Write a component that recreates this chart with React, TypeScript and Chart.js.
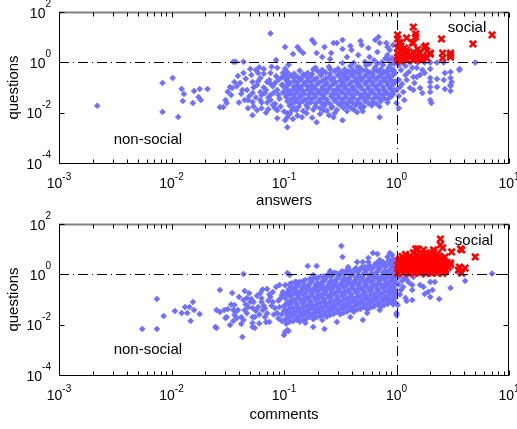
import React, { useEffect, useRef } from "react";
import { Chart, registerables } from "chart.js";

Chart.register(...registerables);

const FONT = '"Liberation Sans", Arial, Helvetica, sans-serif';

// Axis ticks (powers of ten)
const xTickExps = [-3, -2, -1, 0, 1];
const yTickExps = [-4, -2, 0, 2];
const xMinorDecades = [-3, -2, -1, 0];
const minorMultipliers = [2, 3, 4, 5, 6, 7, 8, 9];
const xRange = [1e-3, 10];
const yRange = [1e-4, 100];
const threshold = 1;

// ---------- Top panel: [log10(answers), log10(questions)] ----------
const answersSparse = [
  [-2.66, -1.73], [-2.08, -0.82], [-1.99, -0.62], [-2.08, -1.97], [-1.94, -2.17], [-1.91, -1.06],
  [-1.89, -1.26], [-1.9, -1.54], [-1.81, -1.62], [-1.8, -1.14], [-1.75, -1.06], [-1.76, -1.38],
  [-1.74, -1.5], [-1.68, -1.06], [-1.57, -1.78], [-1.54, -1.78], [-1.51, -1.62], [-1.5, -1.17],
  [-1.48, -0.98], [-1.45, 0.02], [-1.43, 0.02], [-1.36, 0.02], [-1.52, -1.5], [-1.46, -1.02],
  [-1.44, -0.78], [-1.41, -0.54], [-1.39, -0.82], [-1.36, -0.42], [-1.37, -1.1], [-1.33, -1.1],
  [-1.3, -0.26], [-1.28, -0.78], [-1.28, -1.22], [-1.35, -1.5], [-1.32, -1.5], [-1.28, -1.58],
  [-1.32, -1.82], [-1.24, -1.9], [-1.28, -2.1], [-1.25, -0.3], [-1.23, -0.42], [-1.21, -0.62],
  [-1.18, -0.26], [-1.15, -0.78], [-1.12, -0.42], [-1.11, -0.18], [-1.07, 0.09], [-1.06, -0.22],
  [-1.05, -0.7], [-1.08, -0.82], [-1.01, -0.42], [-0.97, -0.78], [-0.96, -0.1], [-1.21, -1.18],
  [-1.17, -1.22], [-1.21, -1.5], [-1.12, -1.5], [-1.2, -1.82], [-1.14, -1.86], [-1.08, -1.82],
  [-1.06, -2.22], [-0.97, -2.02], [-0.99, -2.3], [-1.12, 1.15], [-1.18, -1.0], [-1.12, -1.3],
  [-1.06, -1.1], [-1.1, -0.95], [-1.15, -1.6], [-1.04, -1.45], [-1.08, -1.65], [-1.02, -0.6],
  [-1.2, -1.3], [-1.27, -1.0], [-1.13, -0.7], [-1.06, -1.9], [-1.24, -0.9],
  [-1.47, -1.3], [-1.42, -0.95], [-1.4, -1.6], [-1.38, -1.25], [-1.34, -0.65], [-1.31, -1.35],
  [-1.29, -0.5], [-1.27, -1.75], [-1.25, -1.4], [-1.23, -0.75], [-1.2, -1.6], [-1.18, -0.45],
  [-1.16, -1.1], [-1.14, -1.4], [-1.12, -0.85], [-1.1, -1.7], [-1.09, -1.2], [-1.07, -0.55],
  [-1.05, -1.3], [-1.03, -1.75], [-1.02, -0.9], [-1.01, -1.2], [-1.0, -1.95], [-0.99, -0.25],
  [-1.16, -2.0], [-1.22, -0.2],
  [-0.99, 0.61], [-0.88, 0.61], [-0.86, 0.49], [-0.83, 0.37], [-0.92, 0.33], [-0.75, 0.89],
  [-0.73, 0.77], [-0.64, 0.61], [-0.58, 0.37], [-0.56, 0.77], [-0.53, 0.77], [-0.48, 0.89],
  [-0.48, 0.53], [-0.41, 0.65], [-0.4, 0.49], [-0.32, 0.85], [-0.31, 0.69], [-0.25, 0.57],
  [-0.19, 0.89], [-0.16, 1.01], [-0.15, 0.77], [-0.09, 0.77], [-0.08, 0.61], [-0.17, 0.41],
  [-0.71, 0.37], [-0.66, 0.21], [-0.59, 0.13], [-0.44, 0.21], [-0.34, 0.29], [-0.24, 0.21],
  [-0.08, 0.29], [-0.48, -0.03], [-0.35, -0.19], [-0.06, 0.49], [-0.03, 0.69], [-0.04, 0.17],
  [-0.28, 0.02], [-0.2, 0.08], [-0.13, 0.0], [-0.07, 0.1], [-0.02, 0.05], [-0.17, -0.05],
  [-0.1, 0.15], [-0.24, -0.06], [-0.38, -0.02], [-0.05, -0.08],
  [-0.97, -2.18], [-0.97, -2.58], [-0.71, -2.38], [-0.56, -2.18], [-0.48, -2.3], [-0.35, -1.98],
  [-0.3, -1.94], [-0.15, -2.18], [-0.65, -1.9], [-0.84, -2.18], [-0.55, -2.02], [-0.89, -1.9],
  [-0.95, -2.05], [-0.88, -2.12], [-0.8, -2.02], [-0.75, -2.2], [-0.68, -2.05], [-0.92, -2.25],
  [-0.6, -2.1],
];

const answersCore = [
  [-0.72, -0.22], [-0.6, -0.18], [-0.52, -0.25], [-0.41, -0.15], [-0.33, -0.21], [-0.27, -0.12],
  [-0.19, -0.2], [-0.12, -0.1], [-0.07, -0.22], [-0.02, -0.05],
  [-0.97, -0.4], [-0.86, -0.33], [-0.79, -0.42], [-0.7, -0.35], [-0.63, -0.4], [-0.55, -0.34],
  [-0.49, -0.41], [-0.43, -0.36], [-0.36, -0.39], [-0.3, -0.32], [-0.24, -0.4], [-0.17, -0.35],
  [-0.11, -0.38], [-0.05, -0.3], [-0.01, -0.42],
  [-1.0, -0.55], [-0.94, -0.52], [-0.88, -0.58], [-0.82, -0.5], [-0.76, -0.56], [-0.67, -0.52],
  [-0.6, -0.57], [-0.52, -0.51], [-0.46, -0.55], [-0.39, -0.53], [-0.33, -0.58], [-0.27, -0.5],
  [-0.21, -0.56], [-0.14, -0.53], [-0.08, -0.57], [-0.03, -0.5],
  [-0.98, -0.7], [-0.91, -0.74], [-0.85, -0.68], [-0.79, -0.73], [-0.73, -0.69], [-0.66, -0.74],
  [-0.58, -0.7], [-0.5, -0.72], [-0.44, -0.68], [-0.37, -0.74], [-0.31, -0.7], [-0.24, -0.72],
  [-0.18, -0.68], [-0.11, -0.73], [-0.05, -0.7], [-0.01, -0.76],
  [-1.01, -0.9], [-0.95, -0.86], [-0.88, -0.9], [-0.82, -0.87], [-0.76, -0.91], [-0.7, -0.85],
  [-0.63, -0.89], [-0.56, -0.86], [-0.49, -0.9], [-0.42, -0.87], [-0.35, -0.91], [-0.28, -0.85],
  [-0.21, -0.89], [-0.15, -0.86], [-0.08, -0.9], [-0.03, -0.88],
  [-0.99, -1.04], [-0.92, -1.07], [-0.86, -1.03], [-0.79, -1.08], [-0.73, -1.02], [-0.66, -1.06],
  [-0.6, -1.04], [-0.53, -1.08], [-0.46, -1.03], [-0.39, -1.07], [-0.32, -1.02], [-0.25, -1.06],
  [-0.18, -1.04], [-0.12, -1.08], [-0.06, -1.03], [-0.02, -1.1],
  [-1.0, -1.2], [-0.94, -1.24], [-0.88, -1.2], [-0.82, -1.25], [-0.75, -1.21], [-0.68, -1.23],
  [-0.62, -1.19], [-0.55, -1.24], [-0.48, -1.21], [-0.41, -1.25], [-0.35, -1.2], [-0.28, -1.23],
  [-0.22, -1.19], [-0.15, -1.24], [-0.09, -1.21], [-0.03, -1.26],
  [-0.98, -1.38], [-0.91, -1.41], [-0.85, -1.37], [-0.78, -1.42], [-0.72, -1.38], [-0.65, -1.4],
  [-0.58, -1.36], [-0.51, -1.41], [-0.45, -1.39], [-0.38, -1.42], [-0.31, -1.37], [-0.25, -1.4],
  [-0.18, -1.38], [-0.11, -1.43], [-0.05, -1.37],
  [-0.97, -1.55], [-0.9, -1.58], [-0.83, -1.54], [-0.76, -1.59], [-0.69, -1.55], [-0.62, -1.57],
  [-0.55, -1.53], [-0.48, -1.58], [-0.42, -1.55], [-0.35, -1.6], [-0.28, -1.54], [-0.21, -1.57],
  [-0.14, -1.55], [-0.08, -1.6],
  [-0.95, -1.72], [-0.87, -1.76], [-0.8, -1.71], [-0.72, -1.75], [-0.64, -1.72], [-0.57, -1.77],
  [-0.5, -1.71], [-0.43, -1.74], [-0.36, -1.7], [-0.29, -1.76], [-0.22, -1.72], [-0.15, -1.75],
  [-0.93, -1.9], [-0.83, -1.93], [-0.74, -1.88], [-0.62, -1.92], [-0.53, -1.89], [-0.44, -1.94],
  [-0.38, -1.88],
];

const answersCoreFill = [
  [-0.74, -0.28], [-0.66, -0.3], [-0.59, -0.27], [-0.52, -0.31],
  [-0.46, -0.28], [-0.39, -0.3], [-0.33, -0.27], [-0.27, -0.31], [-0.2, -0.29], [-0.14, -0.27],
  [-0.08, -0.31], [-0.03, -0.28],
  [-0.99, -0.47], [-0.91, -0.45], [-0.83, -0.48], [-0.75, -0.46], [-0.67, -0.47], [-0.59, -0.45],
  [-0.52, -0.48], [-0.46, -0.46], [-0.4, -0.47], [-0.33, -0.45], [-0.27, -0.48], [-0.21, -0.46],
  [-0.14, -0.47], [-0.08, -0.45], [-0.03, -0.48],
  [-0.97, -0.63], [-0.91, -0.62], [-0.85, -0.64], [-0.79, -0.62], [-0.71, -0.63], [-0.63, -0.64],
  [-0.56, -0.62], [-0.49, -0.63], [-0.43, -0.61], [-0.36, -0.64], [-0.3, -0.62], [-0.24, -0.63],
  [-0.17, -0.61], [-0.11, -0.64], [-0.06, -0.62],
  [-0.95, -0.8], [-0.88, -0.79], [-0.82, -0.81], [-0.76, -0.79], [-0.69, -0.8], [-0.62, -0.81],
  [-0.54, -0.79], [-0.47, -0.8], [-0.4, -0.78], [-0.34, -0.81], [-0.27, -0.79], [-0.21, -0.8],
  [-0.14, -0.78], [-0.08, -0.81], [-0.03, -0.79],
  [-0.98, -0.97], [-0.91, -0.96], [-0.85, -0.98], [-0.79, -0.96], [-0.73, -0.97], [-0.66, -0.98],
  [-0.59, -0.96], [-0.52, -0.97], [-0.46, -0.95], [-0.39, -0.98], [-0.32, -0.96], [-0.25, -0.97],
  [-0.18, -0.95], [-0.12, -0.98], [-0.06, -0.96],
  [-0.96, -1.13], [-0.89, -1.12], [-0.83, -1.14], [-0.76, -1.12], [-0.7, -1.13], [-0.63, -1.14],
  [-0.56, -1.12], [-0.5, -1.13], [-0.43, -1.11], [-0.36, -1.14], [-0.29, -1.12], [-0.22, -1.13],
  [-0.16, -1.11], [-0.1, -1.14], [-0.04, -1.12],
  [-0.97, -1.3], [-0.91, -1.29], [-0.85, -1.31], [-0.78, -1.29], [-0.72, -1.3], [-0.65, -1.31],
  [-0.58, -1.29], [-0.52, -1.3], [-0.45, -1.28], [-0.38, -1.31], [-0.32, -1.29], [-0.25, -1.3],
  [-0.19, -1.28], [-0.12, -1.31], [-0.06, -1.29],
  [-0.94, -1.47], [-0.88, -1.46], [-0.81, -1.48], [-0.75, -1.46], [-0.68, -1.47], [-0.62, -1.48],
  [-0.55, -1.46], [-0.48, -1.47], [-0.41, -1.45], [-0.34, -1.48], [-0.28, -1.46], [-0.21, -1.47],
  [-0.15, -1.45], [-0.08, -1.48],
  [-0.93, -1.64], [-0.86, -1.63], [-0.79, -1.65], [-0.72, -1.63], [-0.66, -1.64], [-0.59, -1.65],
  [-0.52, -1.63], [-0.45, -1.64], [-0.39, -1.62], [-0.32, -1.65], [-0.25, -1.63], [-0.18, -1.64],
  [-0.91, -1.81], [-0.79, -1.8], [-0.68, -1.82], [-0.58, -1.8], [-0.47, -1.81], [-0.4, -1.82],
  [-0.32, -1.8],
];

const answersRight = [
  [0.3, -0.01], [0.36, -0.01], [0.42, -0.01], [0.7, -0.01], [0.08, -0.15], [0.14, -0.22],
  [0.18, -0.22], [0.23, -0.3], [0.3, -0.26], [0.08, -0.5], [0.09, -0.7], [0.15, -0.58],
  [0.21, -0.5], [0.25, -0.42], [0.3, -0.62], [0.36, -0.66], [0.43, -0.42], [0.48, -0.38],
  [0.48, -0.62], [0.49, -0.78], [0.56, -0.3], [0.03, -0.98], [0.06, -1.18], [0.15, -1.1],
  [0.16, -0.82], [0.21, -1.02], [0.23, -1.22], [0.3, -0.98], [0.36, -0.98], [0.3, -1.5],
  [0.31, -1.62], [0.43, -1.06], [0.48, -0.94], [0.48, -1.14], [0.0, -1.62], [0.56, -0.26],
  [0.42, -0.7], [0.48, -0.9], [0.3, -0.78], [0.3, -1.18], [0.18, -0.58], [0.12, -1.02],
  [0.02, -0.11], [0.04, -0.3], [0.02, -0.7], [0.05, -0.86], [0.0, -1.1], [0.02, -1.34],
  [0.07, -1.5], [0.02, -1.82], [0.11, -0.38], [0.12, -0.01], [0.19, -0.01], [0.25, -0.01],
  [0.06, -0.01],
];

const answersSocial = [
  [0.15, 1.4], [0.01, 1.09], [0.17, 1.13], [0.4, 0.93], [0.68, 0.73], [0.85, 1.09],
  [0.09, 0.97], [0.03, 0.77], [0.14, 0.77], [0.26, 0.65], [0.3, 0.37], [0.41, 0.37],
  [0.48, 0.29], [0.41, 0.17], [0.48, 0.21], [0.24, 0.21], [0.21, 0.37], [0.15, 0.41],
  [0.09, 0.49], [0.05, 0.49], [0.01, 0.57], [0.01, 0.37], [0.06, 0.29], [0.12, 0.29],
  [0.16, 0.21], [0.01, 0.21], [0.02, 0.77], [0.07, 0.57], [0.12, 0.21], [0.2, 0.37],
  [0.23, 0.21], [0.25, 0.61], [0.3, 0.33], [0.01, 0.09], [0.05, 0.13], [0.15, 0.09],
  [0.18, 0.13], [0.48, 0.37], [0.01, 0.93], [0.17, 1.01], [0.15, 0.77],
  [0.04, 0.05], [0.08, 0.17], [0.1, 0.4], [0.04, 0.65], [0.19, 0.52], [0.27, 0.45],
  [0.09, 0.09], [0.22, 0.09], [0.27, 0.17],
];

// ---------- Bottom panel: [log10(comments), log10(questions)] ----------
const commentsSparse = [
  [-2.26, -2.17], [-2.13, -2.17], [-2.13, -0.98], [-2.07, -1.66], [-1.97, -1.46], [-1.88, -1.3],
  [-1.86, -1.54], [-1.84, -1.3], [-1.81, -1.1], [-1.8, -1.42], [-1.83, -1.85], [-1.75, -1.58],
  [-1.91, -1.54], [-1.57, -0.62], [-1.61, -2.09], [-1.6, -2.13], [-1.6, -1.42], [-1.57, -1.5],
  [-1.53, -1.42], [-1.5, -1.38], [-1.51, -1.7], [-1.48, -2.01], [-1.46, -0.74], [-1.45, -1.42],
  [-1.44, -1.22], [-1.44, -1.62], [-1.42, -1.74], [-1.38, -1.97], [-1.36, 0.01], [-1.35, -0.66],
  [-1.36, -1.02], [-1.35, -1.42], [-1.36, -1.81], [-1.37, -2.49], [-1.32, -1.3], [-1.29, -0.98],
  [-1.28, -1.93], [-1.26, -2.13], [-1.28, -1.7], [-1.41, -1.42], [-1.52, -1.74], [-1.33, -0.94],
  [-1.3, -1.1], [-1.28, -1.34], [-1.26, -1.7], [-1.28, -2.09], [-1.23, -1.3], [-1.21, -0.74],
  [-1.2, -1.1], [-1.19, -1.42], [-1.17, -1.7], [-1.15, -0.58], [-1.12, -0.9], [-1.13, -1.89],
  [-1.1, -1.1], [-1.06, -1.54], [-1.04, -0.42], [-1.02, -0.82], [-0.99, -1.22], [-0.97, -1.54],
  [-0.99, -2.29], [-0.97, 0.05], [-1.22, -1.6], [-1.18, -1.25], [-1.14, -1.05], [-1.08, -1.35],
  [-1.03, -0.95], [-1.05, -1.75], [-1.1, -0.7], [-1.16, -1.9], [-1.02, -1.6], [-1.2, -0.95],
  [-1.47, -1.2], [-1.43, -1.5], [-1.4, -0.9], [-1.38, -1.7], [-1.33, -1.55], [-1.31, -0.75],
  [-1.27, -1.1], [-1.25, -1.45], [-1.24, -0.85], [-1.22, -1.95], [-1.19, -0.6], [-1.17, -1.35],
  [-1.15, -1.55], [-1.13, -0.8], [-1.11, -1.25], [-1.09, -1.6], [-1.07, -0.5], [-1.05, -1.05],
  [-1.04, -1.3], [-1.02, -1.85], [-1.01, -0.7], [-1.0, -1.45], [-1.34, -1.2], [-1.45, -1.85],
  [-0.49, 1.13], [-0.48, 0.69], [-0.79, 0.33], [-0.71, 0.33], [-0.59, 0.13], [-0.43, 0.29],
  [-0.35, 0.49], [-0.25, 0.49], [-0.21, 0.85], [-0.17, 0.81], [-0.08, 0.69], [-0.15, 0.57],
  [-0.04, 0.77], [-0.9, -0.3], [-0.95, -0.03], [-0.74, -0.03], [-0.65, -0.22], [-0.86, -0.3],
  [-0.9, -0.54], [-0.59, 0.05], [-0.44, 0.17], [-0.28, 0.29], [-0.3, 0.49], [-0.17, 0.45],
  [-0.25, 0.65], [-0.06, 0.85], [-0.12, 0.49],
  [-0.64, -2.17], [-0.97, -2.21], [-1.0, -2.41], [-0.81, -1.93], [0.0, -1.54], [-0.96, -2.25],
  [-0.41, -1.7], [-0.66, -1.81], [-0.26, -1.54], [-0.15, -1.42], [-0.3, -1.81], [-0.53, -1.89],
  [-0.74, -2.09],
];

const commentsCore = [
  [-0.98, -1.96], [-0.99, -1.79], [-0.97, -1.62], [-0.98, -1.45], [-1.0, -1.28], [-0.97, -1.11], [-0.99, -0.94], [-0.98, -0.77], [-0.96, -0.6], [-0.99, -0.43],
  [-0.92, -1.86], [-0.93, -1.69], [-0.91, -1.52], [-0.92, -1.35], [-0.94, -1.18], [-0.91, -1.01], [-0.93, -0.84], [-0.92, -0.67], [-0.9, -0.5], [-0.93, -0.35],
  [-0.86, -1.88], [-0.87, -1.71], [-0.85, -1.54], [-0.86, -1.37], [-0.88, -1.2], [-0.85, -1.03], [-0.87, -0.86], [-0.86, -0.69], [-0.84, -0.52], [-0.87, -0.35],
  [-0.8, -1.76], [-0.81, -1.59], [-0.79, -1.42], [-0.8, -1.25], [-0.82, -1.08], [-0.79, -0.91], [-0.81, -0.74], [-0.8, -0.57], [-0.78, -0.4], [-0.81, -0.23],
  [-0.74, -1.78], [-0.75, -1.61], [-0.73, -1.44], [-0.74, -1.27], [-0.76, -1.1], [-0.73, -0.93], [-0.75, -0.76], [-0.74, -0.59], [-0.72, -0.42], [-0.75, -0.25], [-0.73, -0.12],
  [-0.68, -1.66], [-0.69, -1.49], [-0.67, -1.32], [-0.68, -1.15], [-0.7, -0.98], [-0.67, -0.81], [-0.69, -0.64], [-0.68, -0.47], [-0.66, -0.3], [-0.69, -0.12],
  [-0.62, -1.69], [-0.63, -1.52], [-0.61, -1.35], [-0.62, -1.18], [-0.64, -1.01], [-0.61, -0.84], [-0.63, -0.67], [-0.62, -0.5], [-0.6, -0.33], [-0.63, -0.16], [-0.61, -0.02],
  [-0.56, -1.58], [-0.57, -1.41], [-0.55, -1.24], [-0.56, -1.07], [-0.58, -0.9], [-0.55, -0.73], [-0.57, -0.56], [-0.56, -0.39], [-0.54, -0.22], [-0.57, -0.05], [-0.55, 0.06],
  [-0.5, -1.59], [-0.51, -1.42], [-0.49, -1.25], [-0.5, -1.08], [-0.52, -0.91], [-0.49, -0.74], [-0.51, -0.57], [-0.5, -0.4], [-0.48, -0.23], [-0.51, -0.06], [-0.49, 0.1],
  [-0.44, -1.48], [-0.45, -1.31], [-0.43, -1.14], [-0.44, -0.97], [-0.46, -0.8], [-0.43, -0.63], [-0.45, -0.46], [-0.44, -0.29], [-0.42, -0.12], [-0.45, 0.05], [-0.43, 0.17],
  [-0.38, -1.49], [-0.39, -1.32], [-0.37, -1.15], [-0.38, -0.98], [-0.4, -0.81], [-0.37, -0.64], [-0.39, -0.47], [-0.38, -0.3], [-0.36, -0.13], [-0.39, 0.04], [-0.37, 0.21],
  [-0.32, -1.38], [-0.33, -1.21], [-0.31, -1.04], [-0.32, -0.87], [-0.34, -0.7], [-0.31, -0.53], [-0.33, -0.36], [-0.32, -0.19], [-0.3, -0.02], [-0.33, 0.15], [-0.31, 0.28],
  [-0.26, -1.4], [-0.27, -1.23], [-0.25, -1.06], [-0.26, -0.89], [-0.28, -0.72], [-0.25, -0.55], [-0.27, -0.38], [-0.26, -0.21], [-0.24, -0.04], [-0.27, 0.13], [-0.25, 0.3],
  [-0.2, -1.28], [-0.21, -1.11], [-0.19, -0.94], [-0.2, -0.77], [-0.22, -0.6], [-0.19, -0.43], [-0.21, -0.26], [-0.2, -0.09], [-0.18, 0.08], [-0.21, 0.25], [-0.19, 0.4],
  [-0.14, -1.3], [-0.15, -1.13], [-0.13, -0.96], [-0.14, -0.79], [-0.16, -0.62], [-0.13, -0.45], [-0.15, -0.28], [-0.14, -0.11], [-0.12, 0.06], [-0.15, 0.23], [-0.13, 0.4], [-0.14, 0.5],
  [-0.08, -1.18], [-0.09, -1.01], [-0.07, -0.84], [-0.08, -0.67], [-0.1, -0.5], [-0.07, -0.33], [-0.09, -0.16], [-0.08, 0.01], [-0.06, 0.18], [-0.09, 0.35], [-0.07, 0.52],
  [-0.03, -1.2], [-0.04, -1.03], [-0.02, -0.86], [-0.03, -0.69], [-0.05, -0.52], [-0.02, -0.35], [-0.04, -0.18], [-0.03, -0.01], [-0.02, 0.16], [-0.04, 0.33], [-0.02, 0.5], [-0.03, 0.62],
];

const commentsCoreFill = [
  [-0.95, -1.88], [-0.96, -1.71], [-0.94, -1.54], [-0.95, -1.37], [-0.96, -1.2], [-0.94, -1.03], [-0.95, -0.86], [-0.96, -0.69], [-0.94, -0.52], [-0.95, -0.38],
  [-0.89, -1.8], [-0.9, -1.63], [-0.88, -1.46], [-0.89, -1.29], [-0.9, -1.12], [-0.88, -0.95], [-0.89, -0.78], [-0.9, -0.61], [-0.88, -0.44], [-0.89, -0.3],
  [-0.83, -1.8], [-0.84, -1.63], [-0.82, -1.46], [-0.83, -1.29], [-0.84, -1.12], [-0.82, -0.95], [-0.83, -0.78], [-0.84, -0.61], [-0.82, -0.44], [-0.83, -0.27],
  [-0.77, -1.68], [-0.78, -1.51], [-0.76, -1.34], [-0.77, -1.17], [-0.78, -1.0], [-0.76, -0.83], [-0.77, -0.66], [-0.78, -0.49], [-0.76, -0.32], [-0.77, -0.18],
  [-0.71, -1.7], [-0.72, -1.53], [-0.7, -1.36], [-0.71, -1.19], [-0.72, -1.02], [-0.7, -0.85], [-0.71, -0.68], [-0.72, -0.51], [-0.7, -0.34], [-0.71, -0.17],
  [-0.65, -1.6], [-0.66, -1.43], [-0.64, -1.26], [-0.65, -1.09], [-0.66, -0.92], [-0.64, -0.75], [-0.65, -0.58], [-0.66, -0.41], [-0.64, -0.24], [-0.65, -0.07],
  [-0.59, -1.61], [-0.6, -1.44], [-0.58, -1.27], [-0.59, -1.1], [-0.6, -0.93], [-0.58, -0.76], [-0.59, -0.59], [-0.6, -0.42], [-0.58, -0.25], [-0.59, -0.08], [-0.6, 0.02],
  [-0.53, -1.5], [-0.54, -1.33], [-0.52, -1.16], [-0.53, -0.99], [-0.54, -0.82], [-0.52, -0.65], [-0.53, -0.48], [-0.54, -0.31], [-0.52, -0.14], [-0.53, 0.03],
  [-0.47, -1.53], [-0.48, -1.36], [-0.46, -1.19], [-0.47, -1.02], [-0.48, -0.85], [-0.46, -0.68], [-0.47, -0.51], [-0.48, -0.34], [-0.46, -0.17], [-0.47, 0.0], [-0.48, 0.12],
  [-0.41, -1.4], [-0.42, -1.23], [-0.4, -1.06], [-0.41, -0.89], [-0.42, -0.72], [-0.4, -0.55], [-0.41, -0.38], [-0.42, -0.21], [-0.4, -0.04], [-0.41, 0.13],
  [-0.35, -1.4], [-0.36, -1.23], [-0.34, -1.06], [-0.35, -0.89], [-0.36, -0.72], [-0.34, -0.55], [-0.35, -0.38], [-0.36, -0.21], [-0.34, -0.04], [-0.35, 0.13], [-0.36, 0.25],
  [-0.29, -1.3], [-0.3, -1.13], [-0.28, -0.96], [-0.29, -0.79], [-0.3, -0.62], [-0.28, -0.45], [-0.29, -0.28], [-0.3, -0.11], [-0.28, 0.06], [-0.29, 0.22],
  [-0.23, -1.32], [-0.24, -1.15], [-0.22, -0.98], [-0.23, -0.81], [-0.24, -0.64], [-0.22, -0.47], [-0.23, -0.3], [-0.24, -0.13], [-0.22, 0.04], [-0.23, 0.21], [-0.24, 0.36],
  [-0.17, -1.2], [-0.18, -1.03], [-0.16, -0.86], [-0.17, -0.69], [-0.18, -0.52], [-0.16, -0.35], [-0.17, -0.18], [-0.18, -0.01], [-0.16, 0.16], [-0.17, 0.33], [-0.18, 0.44],
  [-0.11, -1.22], [-0.12, -1.05], [-0.1, -0.88], [-0.11, -0.71], [-0.12, -0.54], [-0.1, -0.37], [-0.11, -0.2], [-0.12, -0.03], [-0.1, 0.14], [-0.11, 0.31], [-0.12, 0.46],
  [-0.055, -1.1], [-0.065, -0.93], [-0.045, -0.76], [-0.055, -0.59], [-0.065, -0.42], [-0.045, -0.25], [-0.055, -0.08], [-0.065, 0.09], [-0.045, 0.26], [-0.055, 0.43], [-0.065, 0.56],
  [-0.01, -1.12], [-0.02, -0.95], [-0.01, -0.78], [-0.01, -0.61], [-0.02, -0.44], [-0.01, -0.27], [-0.01, -0.1], [-0.02, 0.07], [-0.01, 0.24], [-0.01, 0.41], [-0.02, 0.58],
];

const commentsRight = [
  [0.1, -0.03], [0.15, -0.11], [0.24, -0.03], [0.3, 0.01], [0.43, 0.03], [0.56, 0.03],
  [0.85, 0.03], [0.61, -0.26], [0.09, -0.22], [0.14, -0.42], [0.06, -0.5], [0.21, -0.42],
  [0.24, -0.5], [0.3, -0.3], [0.34, -0.3], [0.28, -0.7], [0.32, -0.62], [0.25, -0.78],
  [0.3, -0.9], [0.48, -0.54], [0.14, -0.62], [0.08, -0.94], [0.14, -1.02], [0.09, -1.06],
  [0.38, -0.98], [0.04, -0.62], [0.01, -1.22], [0.0, -1.62], [0.02, -0.1], [0.05, -0.25],
  [0.02, -0.4], [0.07, -0.15], [0.03, -0.8], [0.11, -0.32],
];

const commentsSocial = [
  [0.01, 0.05], [0.06, 0.05], [0.11, 0.04], [0.16, 0.05], [0.21, 0.06], [0.26, 0.04], [0.31, 0.05], [0.36, 0.05], [0.41, 0.04],
  [0.03, 0.2], [0.08, 0.22], [0.13, 0.19], [0.18, 0.21], [0.23, 0.2], [0.28, 0.22], [0.33, 0.19], [0.38, 0.21], [0.44, 0.2],
  [0.01, 0.37], [0.06, 0.38], [0.11, 0.36], [0.16, 0.39], [0.21, 0.37], [0.26, 0.36], [0.31, 0.38], [0.36, 0.37], [0.42, 0.39], [0.48, 0.37],
  [0.02, 0.54], [0.08, 0.55], [0.14, 0.53], [0.19, 0.56], [0.25, 0.54], [0.3, 0.55], [0.35, 0.53], [0.41, 0.55],
  [0.05, 0.71], [0.12, 0.72], [0.2, 0.7], [0.27, 0.73], [0.33, 0.71], [0.38, 0.72],
  [0.15, 0.86], [0.26, 0.85], [0.33, 0.87],
  [0.035, 0.12], [0.085, 0.12], [0.135, 0.13], [0.185, 0.12], [0.235, 0.11], [0.285, 0.13], [0.335, 0.12], [0.385, 0.12], [0.43, 0.13],
  [0.02, 0.29], [0.07, 0.3], [0.12, 0.28], [0.17, 0.29], [0.22, 0.3], [0.27, 0.28], [0.32, 0.29], [0.37, 0.3], [0.42, 0.28], [0.46, 0.29],
  [0.04, 0.46], [0.09, 0.45], [0.14, 0.47], [0.19, 0.46], [0.24, 0.45], [0.29, 0.47], [0.34, 0.46], [0.39, 0.45], [0.45, 0.47],
  [0.03, 0.63], [0.09, 0.62], [0.16, 0.64], [0.22, 0.63], [0.28, 0.62], [0.34, 0.64], [0.4, 0.63],
  [0.08, 0.79], [0.18, 0.78], [0.25, 0.8], [0.31, 0.79], [0.36, 0.8],
  [0.39, 1.4], [0.39, 1.17], [0.33, 0.97], [0.41, 1.05], [0.49, 0.89], [0.58, 0.97],
  [0.7, 0.69], [0.43, 0.69], [0.37, 0.57], [0.4, 0.45], [0.56, 0.29], [0.55, 0.17],
  [0.58, 0.05], [0.61, 0.25], [0.21, 0.69], [0.24, 0.97], [0.19, 1.01], [0.57, 1.01],
  [0.48, 0.45], [0.17, 1.01], [0.25, 0.81],
];

// Label anchor positions in data units (log10)
const topLabels = { nonSocial: [-2.21, -3.09], social: [0.627, 1.38] };
const bottomLabels = { nonSocial: [-2.21, -3.0], social: [0.689, 1.34] };

type Panel = {
  xTitle: string;
  blue: number[][];
  red: number[][];
  labels: { nonSocial: number[]; social: number[] };
  top: number;
  height: number;
  padTop: number;
  padBottom: number;
  titleOffset: number;
};

const panels: Panel[] = [
  {
    xTitle: "answers",
    blue: [...answersSparse, ...answersCore, ...answersCoreFill, ...answersRight],
    red: answersSocial,
    labels: topLabels,
    top: 0,
    height: 208,
    padTop: 12,
    padBottom: 45,
    titleOffset: 42,
  },
  {
    xTitle: "comments",
    blue: [...commentsSparse, ...commentsCore, ...commentsCoreFill, ...commentsRight],
    red: commentsSocial,
    labels: bottomLabels,
    top: 208,
    height: 221,
    padTop: 16,
    padBottom: 54,
    titleOffset: 44,
  },
];

function drawPower(ctx: CanvasRenderingContext2D, e: number, x: number, baseY: number, expY: number, align: "center" | "right") {
  const base = "10";
  const ex = String(e);
  ctx.font = `14px ${FONT}`;
  const wb = ctx.measureText(base).width;
  ctx.font = `10px ${FONT}`;
  const we = ctx.measureText(ex).width;
  const start = align === "center" ? x - (wb + we) / 2 : x - (wb + we);
  ctx.textAlign = "left";
  ctx.textBaseline = "alphabetic";
  ctx.font = `14px ${FONT}`;
  ctx.fillText(base, start, baseY);
  ctx.font = `10px ${FONT}`;
  ctx.fillText(ex, start + wb, expY);
}

function makeDecor(panel: Panel) {
  return {
    id: "decor",
    afterDatasetsDraw(chart: any) {
      const { ctx, chartArea: a } = chart;
      const xs = chart.scales.x;
      const ys = chart.scales.y;
      ctx.save();
      ctx.fillStyle = "#000";
      ctx.strokeStyle = "#000";

      // dash-dot threshold lines
      ctx.lineWidth = 1;
      ctx.setLineDash([10, 4, 1, 4]);
      const tx = Math.round(xs.getPixelForValue(threshold)) + 0.5;
      const ty = Math.round(ys.getPixelForValue(threshold)) + 0.5;
      ctx.beginPath();
      ctx.moveTo(a.left, ty);
      ctx.lineTo(a.right, ty);
      ctx.stroke();
      ctx.beginPath();
      ctx.moveTo(tx, a.bottom);
      ctx.lineTo(tx, a.top);
      ctx.stroke();
      ctx.setLineDash([]);

      const L = Math.round(a.left) + 0.5;
      const R = Math.round(a.right) - 0.5;
      const T = Math.round(a.top) + 0.5;
      const B = Math.round(a.bottom) + 0.5;

      // box
      ctx.strokeStyle = "#000";
      ctx.lineWidth = 1;
      ctx.beginPath();
      ctx.moveTo(L, T);
      ctx.lineTo(L, B);
      ctx.lineTo(R, B);
      ctx.lineTo(R, T);
      ctx.stroke();
      ctx.strokeStyle = "#808080";
      ctx.lineWidth = 2;
      ctx.beginPath();
      ctx.moveTo(L - 0.5, T);
      ctx.lineTo(R + 0.5, T);
      ctx.stroke();

      // ticks
      ctx.strokeStyle = "#000";
      ctx.lineWidth = 1;
      ctx.beginPath();
      xTickExps.forEach((e) => {
        const px = Math.round(xs.getPixelForValue(Math.pow(10, e))) + 0.5;
        ctx.moveTo(px, B);
        ctx.lineTo(px, B - 5);
        ctx.moveTo(px, T);
        ctx.lineTo(px, T + 5);
      });
      xMinorDecades.forEach((d) => {
        minorMultipliers.forEach((m) => {
          const px = Math.round(xs.getPixelForValue(m * Math.pow(10, d))) + 0.5;
          ctx.moveTo(px, B);
          ctx.lineTo(px, B - 4);
          ctx.moveTo(px, T);
          ctx.lineTo(px, T + 4);
        });
      });
      yTickExps.forEach((e) => {
        const py = Math.round(ys.getPixelForValue(Math.pow(10, e))) + 0.5;
        ctx.moveTo(L, py);
        ctx.lineTo(L + 5, py);
        ctx.moveTo(R, py);
        ctx.lineTo(R - 5, py);
      });
      ctx.stroke();

      // tick labels
      ctx.fillStyle = "#000";
      xTickExps.forEach((e) => {
        const px = xs.getPixelForValue(Math.pow(10, e));
        drawPower(ctx, e, px, a.bottom + 25, a.bottom + 17, "center");
      });
      yTickExps.forEach((e) => {
        const py = ys.getPixelForValue(Math.pow(10, e));
        drawPower(ctx, e, a.left - 8, py + 5.5, py - 5, "right");
      });

      // axis titles
      ctx.font = `15px ${FONT}`;
      ctx.textAlign = "center";
      ctx.textBaseline = "alphabetic";
      ctx.fillText(panel.xTitle, (a.left + a.right) / 2, a.bottom + panel.titleOffset);
      ctx.save();
      ctx.translate(18, (a.top + a.bottom) / 2);
      ctx.rotate(-Math.PI / 2);
      ctx.fillText("questions", 0, 0);
      ctx.restore();

      // region labels
      ctx.textBaseline = "middle";
      const ns = panel.labels.nonSocial;
      const so = panel.labels.social;
      ctx.fillText("non-social", xs.getPixelForValue(Math.pow(10, ns[0])), ys.getPixelForValue(Math.pow(10, ns[1])));
      ctx.fillText("social", xs.getPixelForValue(Math.pow(10, so[0])), ys.getPixelForValue(Math.pow(10, so[1])));

      ctx.restore();
    },
  };
}

function ScatterPanel({ panel }: { panel: Panel }) {
  const ref = useRef<HTMLCanvasElement>(null);
  useEffect(() => {
    const canvas = ref.current;
    if (!canvas) return;
    const toPts = (arr: number[][]) => arr.map(([a, b]) => ({ x: Math.pow(10, a), y: Math.pow(10, b) }));
    const blueColor = "rgb(112,112,255)";
    const chart = new Chart(canvas, {
      type: "scatter",
      data: {
        datasets: [
          {
            data: toPts(panel.red),
            pointStyle: "crossRot",
            pointRadius: 4.5,
            pointBorderWidth: 2.6,
            pointBorderColor: "#ff0000",
            pointBackgroundColor: "#ff0000",
            borderColor: "#ff0000",
            backgroundColor: "#ff0000",
          },
          {
            data: toPts(panel.blue),
            pointStyle: "rectRot",
            pointRadius: 3,
            pointBorderWidth: 0.6,
            pointBorderColor: blueColor,
            pointBackgroundColor: blueColor,
            borderColor: blueColor,
            backgroundColor: blueColor,
          },
        ],
      } as any,
      options: {
        animation: false,
        responsive: false,
        devicePixelRatio: 1,
        events: [],
        layout: { padding: { left: 59, right: 8, top: panel.padTop, bottom: panel.padBottom } },
        plugins: { legend: { display: false }, tooltip: { enabled: false } },
        scales: {
          x: { type: "logarithmic", min: xRange[0], max: xRange[1], display: false },
          y: { type: "logarithmic", min: yRange[0], max: yRange[1], display: false },
        },
      } as any,
      plugins: [makeDecor(panel)],
    });
    return () => chart.destroy();
  }, [panel]);
  return (
    <canvas
      ref={ref}
      width={517}
      height={panel.height}
      style={{ position: "absolute", left: 0, top: panel.top, width: 517, height: panel.height }}
    />
  );
}

export default function App() {
  return (
    <div style={{ position: "absolute", left: 0, top: 0, width: 517, height: 429, background: "#fff" }}>
      {panels.map((p, i) => (
        <ScatterPanel key={i} panel={p} />
      ))}
    </div>
  );
}
